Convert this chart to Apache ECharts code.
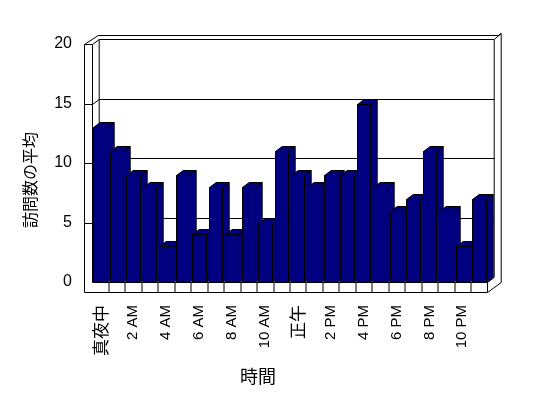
<!DOCTYPE html>
<html>
<head>
<meta charset="utf-8">
<script src="https://cdn.jsdelivr.net/npm/echarts@6/dist/echarts.min.js"></script>
<style>html,body{margin:0;padding:0;background:#fff}#c{width:548px;height:398px}</style>
</head>
<body>
<div id="c"></div>
<script>
var categories = ['真夜中','1 AM','2 AM','3 AM','4 AM','5 AM','6 AM','7 AM','8 AM','9 AM','10 AM','11 AM',
  '正午','1 PM','2 PM','3 PM','4 PM','5 PM','6 PM','7 PM','8 PM','9 PM','10 PM','11 PM'];
var visits = [13, 11, 9, 8, 3, 9, 4, 8, 4, 8, 5, 11, 9, 8, 9, 9, 15, 8, 6, 7, 11, 6, 3, 7];
var yTicks = [0, 5, 10, 15, 20];
var yTitle = '訪問数の平均';
var xTitle = '時間';

var DX = 6.7, DY = -5, WALL = 8, FLOOR = 10;
var FONT = "'Liberation Sans','Noto Sans CJK JP',sans-serif";
var CJK = "'Noto Sans CJK JP',sans-serif";
var LINE = {stroke: '#000', lineWidth: 1};

function ln(x1, y1, x2, y2) {
  return {type: 'line', shape: {x1: x1, y1: y1, x2: x2, y2: y2}, style: LINE, silent: true};
}

function renderFrame(params, api) {
  var cs = params.coordSys;
  var L = Math.round(cs.x) + 0.5, R = Math.round(cs.x + cs.width) + 0.5;
  var B = Math.round(api.coord([0, 0])[1]) + 0.5;
  var T = Math.round(api.coord([0, yTicks[yTicks.length - 1]])[1]) + 0.5;
  var w = api.size([1, 0])[0];
  var ch = [];
  yTicks.forEach(function (v) {
    var y = Math.round(api.coord([0, v])[1]) + 0.5;
    if (v > 0) {
      ch.push(ln(L + DX, y + DY, R + DX, y + DY));
      ch.push(ln(L, y, L + DX, y + DY));
      ch.push(ln(L - WALL, y, L, y));
    }
  });
  ch.push(ln(L + DX, T + DY, L + DX, B + DY));
  ch.push(ln(R + DX, T + DY, R + DX, B + DY));
  ch.push(ln(L, T, L, B));
  ch.push(ln(L - WALL, T, L - WALL, B + FLOOR));
  var OX = R + DX + 7, OY = T + DY - 4;
  ch.push(ln(L - WALL, T, L + DX - 1, OY));
  ch.push(ln(L + DX - 1, OY, OX - 3, OY));
  ch.push(ln(OX - 3, OY, OX, OY - 2));
  ch.push(ln(R + DX, T + DY, OX, OY - 2));
  ch.push(ln(OX, OY - 2, OX, B));
  ch.push(ln(R, B + FLOOR, OX, B));
  ch.push(ln(R, B, R + DX, B + DY));
  ch.push(ln(L, B, R, B));
  ch.push(ln(L - WALL, B + FLOOR, R, B + FLOOR));
  ch.push(ln(R, B, R, B + FLOOR));
  for (var i = 1; i < categories.length; i++) {
    var x = Math.round(L + i * w);
    ch.push(ln(x, B, x, B + FLOOR));
  }
  return {type: 'group', children: ch};
}

function renderBar(params, api) {
  var idx = api.value(0), val = api.value(1);
  var top = api.coord([idx, val]);
  var base = api.coord([idx, 0]);
  var bw = api.size([1, 0])[0] * 0.82;
  var x0 = Math.round(top[0] - bw / 2) + 0.5, x1 = Math.round(top[0] + bw / 2) + 0.5;
  var y0 = Math.round(top[1]) + 0.5, y1 = Math.round(base[1]) + 0.5;
  var st = {fill: '#000080', stroke: '#000', lineWidth: 1};
  return {
    type: 'group',
    children: [
      {type: 'polygon', shape: {points: [[x1, y0], [x1 + DX, y0 + DY], [x1 + DX, y1 + DY], [x1, y1]]}, style: st},
      {type: 'polygon', shape: {points: [[x0, y0], [x0 + DX, y0 + DY], [x1 + DX, y0 + DY], [x1, y0]]}, style: st},
      {type: 'rect', shape: {x: x0, y: y0, width: x1 - x0, height: y1 - y0}, style: st}
    ]
  };
}

var chart = echarts.init(document.getElementById('c'), null, {renderer: 'canvas'});
chart.setOption({
  animation: false,
  backgroundColor: '#fff',
  grid: {left: 92, right: 61, top: 44, bottom: 116},
  xAxis: {
    type: 'category', data: categories, boundaryGap: true,
    axisLine: {show: false}, axisTick: {show: false}, splitLine: {show: false},
    axisLabel: {
      interval: 1, rotate: 90, margin: 23, color: '#000', fontSize: 15, fontFamily: FONT,
      formatter: function (v) { return /^[\x00-\x7f]+$/.test(v) ? v : '{j|' + v + '}'; },
      rich: {j: {fontSize: 17, fontFamily: CJK, color: '#000'}}
    }
  },
  yAxis: {
    type: 'value', min: 0, max: 20, interval: 5,
    axisLine: {show: false}, axisTick: {show: false}, splitLine: {show: false},
    axisLabel: {margin: 20, color: '#000', fontSize: 16, fontFamily: FONT}
  },
  graphic: [
    {type: 'text', x: 30, y: 180, rotation: Math.PI / 2,
      style: {text: yTitle, font: '16px ' + CJK, fill: '#000', align: 'center', verticalAlign: 'middle'}},
    {type: 'text', x: 258, y: 376,
      style: {text: xTitle, font: '18px ' + CJK, fill: '#000', align: 'center', verticalAlign: 'middle'}}
  ],
  series: [
    {type: 'custom', renderItem: renderFrame, data: [[0, 0]], silent: true, z: 1, clip: false},
    {type: 'custom', renderItem: renderBar, z: 2, clip: false,
      data: visits.map(function (v, i) { return [i, v]; })}
  ]
});
</script>
</body>
</html>
